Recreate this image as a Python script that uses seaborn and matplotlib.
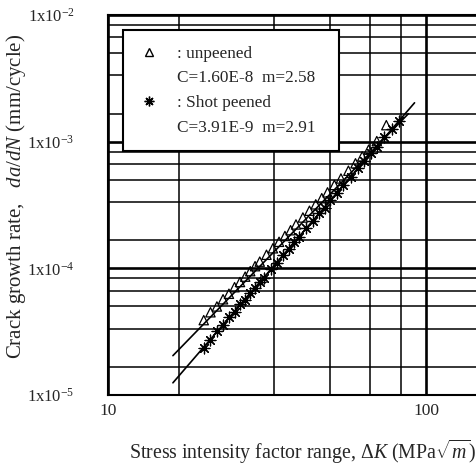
import numpy as np
import seaborn as sns
import matplotlib.pyplot as plt
from matplotlib.lines import Line2D
from matplotlib.ticker import FixedLocator, NullFormatter

# unpeened specimens (open triangles)
dk_unpeened = [20, 21, 22, 23, 24, 25, 26, 27, 28, 29, 30, 31.5, 33, 34.5, 36,
               37.5, 39, 41, 43, 45, 47, 49, 51.5, 54, 57, 60, 63, 66, 70, 75]
dadn_unpeened = [3.9e-5, 4.5e-5, 5.0e-5, 5.7e-5, 6.3e-5, 7.1e-5, 7.8e-5, 8.6e-5,
                 9.5e-5, 1.04e-4, 1.13e-4, 1.28e-4, 1.44e-4, 1.62e-4, 1.80e-4,
                 2.00e-4, 2.22e-4, 2.52e-4, 2.85e-4, 3.20e-4, 3.58e-4, 3.98e-4,
                 4.55e-4, 5.12e-4, 5.90e-4, 6.75e-4, 7.65e-4, 8.65e-4, 1.01e-3, 1.35e-3]

# shot peened specimens (asterisks)
dk_peened = [20, 21, 22, 23, 24, 25, 26, 27, 28, 29, 30, 31, 32.5, 34, 35.5, 37,
             38.5, 40, 42, 44, 46, 48, 50, 52.5, 55, 58, 61, 64, 67, 70, 74, 78, 82]
dadn_peened = [2.35e-5, 2.70e-5, 3.20e-5, 3.55e-5, 4.10e-5, 4.50e-5, 5.20e-5, 5.65e-5,
               6.40e-5, 6.95e-5, 7.85e-5, 8.45e-5, 9.90e-5, 1.10e-4, 1.28e-4, 1.42e-4,
               1.62e-4, 1.78e-4, 2.08e-4, 2.35e-4, 2.72e-4, 3.02e-4, 3.46e-4, 3.92e-4,
               4.58e-4, 5.25e-4, 6.18e-4, 7.00e-4, 8.12e-4, 9.10e-4, 1.08e-3, 1.26e-3, 1.46e-3]

# Paris law fits
C_unpeened, m_unpeened = 1.60e-8, 2.58
C_peened, m_peened = 3.91e-9, 2.91
fit_range_unpeened = [16, 88]
fit_range_peened = [16, 92]

y_ticks = [1e-5, 1e-4, 1e-3, 1e-2]
y_ticklabels = ["1x10$^{-5}$", "1x10$^{-4}$", "1x10$^{-3}$", "1x10$^{-2}$"]
x_ticks = [10, 100]
x_ticklabels = ["10", "100"]
# grid drawn at k/6 of each decade
grid_fracs = [1/6, 2/6, 3/6, 4/6, 5/6]

sns.set_style("white")
plt.rcParams['font.family'] = ['Liberation Serif', 'DejaVu Serif']
plt.rcParams['mathtext.fontset'] = 'custom'
plt.rcParams['mathtext.rm'] = 'Liberation Serif'
plt.rcParams['mathtext.it'] = 'Liberation Serif:italic'

fig = plt.figure(figsize=(4.77, 4.70), dpi=100)
ax = fig.add_axes([108/477, 75/470, 369/477, 380/470])
ax.set_xscale('log')
ax.set_yscale('log')
ax.set_xlim(10, 144.6)
ax.set_ylim(1e-5, 1e-2)

minor_x = [f * 10**n for n in (1, 2) for f in grid_fracs]
minor_y = [f * 10**n for n in (-5, -4, -3, -2) for f in grid_fracs]
ax.xaxis.set_major_locator(FixedLocator(x_ticks))
ax.xaxis.set_minor_locator(FixedLocator(minor_x))
ax.yaxis.set_major_locator(FixedLocator(y_ticks))
ax.yaxis.set_minor_locator(FixedLocator(minor_y))
ax.set_xticklabels(x_ticklabels)
ax.set_yticklabels(y_ticklabels)
ax.xaxis.set_minor_formatter(NullFormatter())
ax.yaxis.set_minor_formatter(NullFormatter())
ax.tick_params(which='both', length=0)
ax.tick_params(axis='y', pad=24, labelsize=12)
ax.tick_params(axis='x', pad=6, labelsize=12.5)

ax.grid(True, which='major', color='black', lw=1.9)
ax.grid(True, which='minor', color='black', lw=1.1)
ax.set_axisbelow(True)

for s in ['left', 'bottom', 'top']:
    ax.spines[s].set_color('black')
    ax.spines[s].set_linewidth(1.5)
ax.spines['right'].set_visible(False)

# fitted lines
kx = np.array(fit_range_unpeened, dtype=float)
sns.lineplot(x=kx, y=C_unpeened * kx**m_unpeened, color='black', lw=1.2, ax=ax)
kx = np.array(fit_range_peened, dtype=float)
sns.lineplot(x=kx, y=C_peened * kx**m_peened, color='black', lw=1.2, ax=ax)

sns.scatterplot(x=dk_unpeened, y=dadn_unpeened, marker='^', s=45,
                facecolor='none', edgecolor='black', linewidth=0.9, ax=ax, zorder=3)
sns.scatterplot(x=dk_peened, y=dadn_peened, marker=(8, 2, 0), s=60,
                color='black', edgecolor='black', linewidth=0.9, ax=ax, zorder=3)

handles = [
    Line2D([], [], marker='^', ls='', mfc='none', mec='black', ms=6),
    Line2D([], [], ls='', marker=None),
    Line2D([], [], marker=(8, 2, 0), ls='', color='black', mec='black', ms=7),
    Line2D([], [], ls='', marker=None),
]
labels = [": unpeened", "C=1.60E-8  m=2.58  ", ": Shot peened", "C=3.91E-9  m=2.91"]
leg = ax.legend(handles, labels, loc='upper left', bbox_to_anchor=(0.041, 0.9605),
                borderaxespad=0, fancybox=False, framealpha=1, edgecolor='black',
                fontsize=12.4, labelspacing=0.5, handlelength=1.2, handletextpad=1.0,
                borderpad=0.9)
leg.get_frame().set_linewidth(1.5)

ax.set_xlabel(r"Stress intensity factor range, $\mathit{ΔK}$ (MPa$\sqrt{m}$)",
              fontsize=14.3)
ax.set_ylabel(r"Crack growth rate,   $\mathit{da/dN}$ (mm/cycle)", fontsize=15)
ax.xaxis.set_label_coords(0.526, -0.113)
ax.yaxis.set_label_coords(-0.217, 0.522)

plt.savefig('out.png', dpi=100)
